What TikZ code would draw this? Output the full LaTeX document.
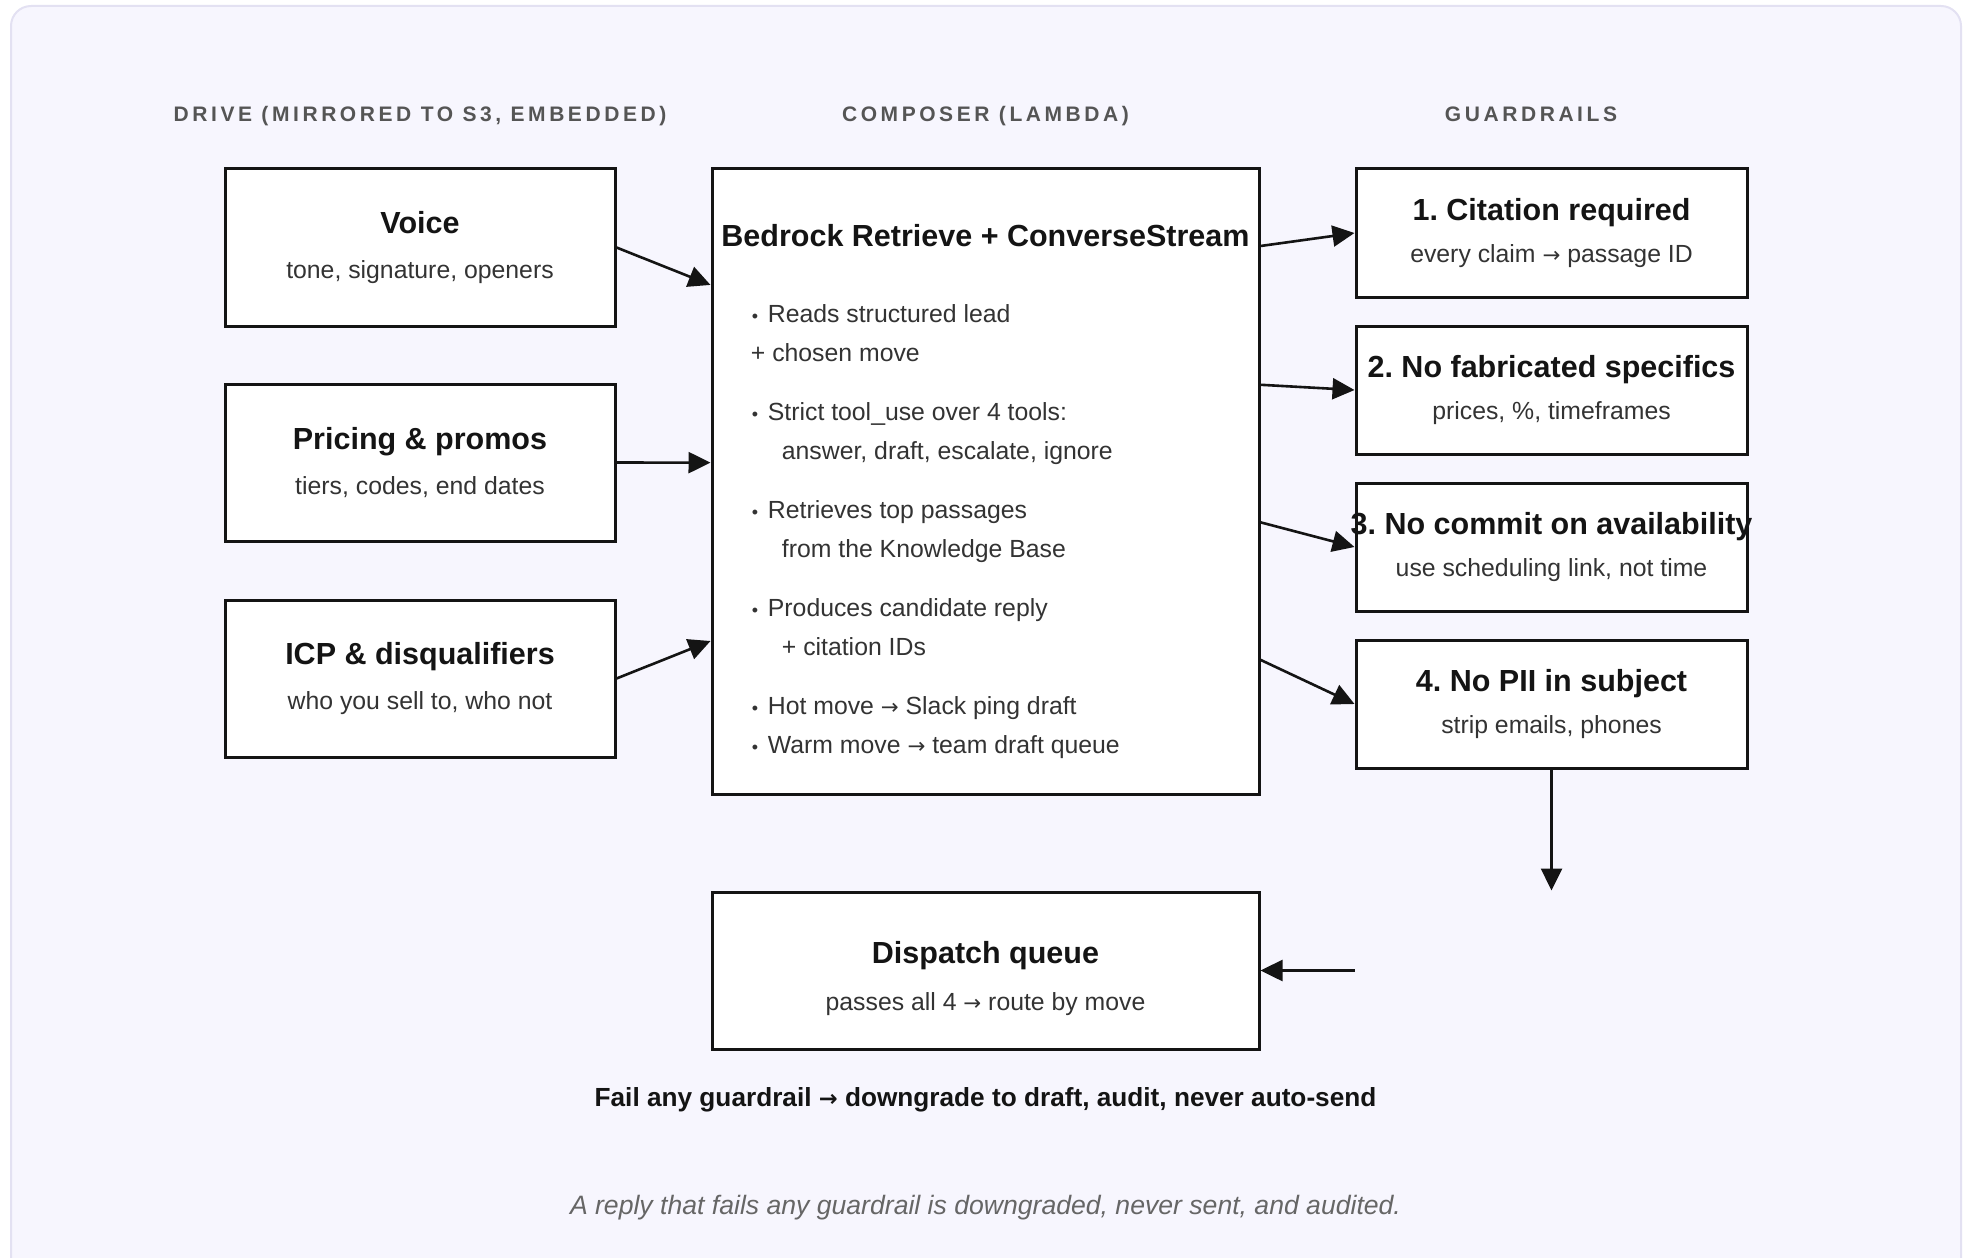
\documentclass[tikz,border=0pt]{standalone}
\usepackage{fontspec}
\setmainfont{Liberation Sans}
\newfontfamily\arrfont{DejaVu Sans}
\usepackage{tikz}
\usetikzlibrary{arrows.meta,positioning,calc}
\frenchspacing

\definecolor{cardbg}{HTML}{F7F6FE}
\definecolor{cardline}{HTML}{E3E1F2}
\definecolor{ink}{HTML}{141414}
\definecolor{subink}{HTML}{333333}
\definecolor{hdink}{HTML}{555555}
\definecolor{noteink}{HTML}{666666}

\newcommand\bxtitle{\fontsize{15.25pt}{18pt}\selectfont\bfseries\color{ink}}
\newcommand\bxsub[1]{\fontsize{12.4pt}{#1}\selectfont\color{subink}}
\newcommand\hdfont{\fontsize{10.5pt}{12pt}\selectfont\bfseries\addfontfeature{LetterSpace=17}}
\newcommand\itm{\makebox[8.5pt][l]{\hspace{.5pt}\fontsize{9pt}{9pt}\selectfont •}}
\newcommand\ind{\hspace*{15.5pt}}
\newcommand\ra{\scalebox{.86}{\arrfont →}}

\begin{document}
\begin{tikzpicture}[
      x=1pt,y=1pt,
      head/.style={font=\hdfont,text=hdink,inner sep=0pt,anchor=base},
      src/.style={draw=ink,line width=1.5pt,fill=white,inner sep=0pt,align=center,
        minimum width=195pt,minimum height=78.5pt,font=\bxsub{22.25pt}},
      rule/.style={src,minimum width=195.5pt,minimum height=64pt,font=\bxsub{20.75pt}},
      arr/.style={->,line width=1.3pt,draw=ink},
      >={Triangle[length=11pt,width=10.5pt]}
    ]
      \useasboundingbox (0,0) rectangle (984,-628.5);
      \path[draw=cardline,fill=cardbg,line width=1pt,rounded corners=10pt] (5.5,-660) rectangle (980.5,-3);

      % sources
      \node[src] (voice) at (210,-123.75) {{\bxtitle Voice}\\tone, signature, openers};
      \node[src,below=27.5pt of voice] (pricing) {{\bxtitle Pricing \& promos}\\tiers, codes, end dates};
      \node[src,below=28pt of pricing] (icp) {{\bxtitle ICP \& disqualifiers}\\who you sell to, who not};

      % composer
      \node[draw=ink,line width=1.5pt,fill=white,minimum width=273.5pt,minimum height=312.5pt,
        below right=0pt and 47pt of voice.north east] (comp) {};
      \node[font=\bxtitle] (ctitle) at ([yshift=-34pt]comp.north) {Bedrock Retrieve + ConverseStream};
      \node[font=\bxsub{19.5pt},align=left,inner sep=0pt,anchor=north west] (steps)
        at ([xshift=20pt,yshift=-68.5pt]comp.north west) {%
        \itm Reads structured lead\\
        + chosen move\\[10pt]
        \itm Strict tool\_use over 4 tools:\\
        \ind answer, draft, escalate, ignore\\[10pt]
        \itm Retrieves top passages\\
        \ind from the Knowledge Base\\[10pt]
        \itm Produces candidate reply\\
        \ind + citation IDs\\[10pt]
        \itm Hot move \ra{} Slack ping draft\\
        \itm Warm move \ra{} team draft queue};

      % guardrails
      \node[rule,below right=0pt and 47pt of comp.north east] (g1) {{\bxtitle 1. Citation required}\\every claim \ra{} passage ID};
      \node[rule,below=13pt of g1] (g2) {{\bxtitle 2. No fabricated specifics}\\prices, \%, timeframes};
      \node[rule,below=13pt of g2] (g3) {{\bxtitle\makebox[0pt]{3. No commit on availability}}\\use scheduling link, not time};
      \node[rule,below=13pt of g3] (g4) {{\bxtitle 4. No PII in subject}\\strip emails, phones};

      \node[src,minimum width=273.5pt,below=47.5pt of comp] (dq)
        {{\bxtitle\rule{0pt}{18.7pt}Dispatch queue}\\[1.25pt]passes all 4 \ra{} route by move};

      % column heads
      \node[head] (hdrive) at (voice |- 0,-61) {DRIVE (MIRRORED TO S3, EMBEDDED)};
      \node[head] (hcomp) at (comp |- 0,-61) {COMPOSER (LAMBDA)};
      \node[head] (hguard) at (765.5,-61) {GUARDRAILS};

      \foreach \s/\f in {voice/.187,pricing/.47,icp/.754}
        \draw[arr] (\s.east) -- ($(comp.north west)!\f!(comp.south west)$);
      \foreach \g/\f in {g1/.125,g2/.346,g3/.565,g4/.784}
        \draw[arr] ($(comp.north east)!\f!(comp.south east)$) -- (\g.west);

      \coordinate (drop) at (g4.south |- dq.north);
      \coordinate (back) at (g4.west |- dq.east);
      \draw[arr] (g4.south) -- (drop);
      \draw[arr] (back) -- (dq.east);

      \node[font=\fontsize{13.1pt}{15pt}\selectfont\bfseries,text=ink,anchor=base] (fail) at (dq |- 0,-553)
        {Fail any guardrail \ra{} downgrade to draft, audit, never auto-send};
      \node[font=\fontsize{13.3pt}{15pt}\selectfont\itshape,text=noteink,anchor=base] (note) at (dq |- 0,-607)
        {A reply that fails any guardrail is downgraded, never sent, and audited.};
    \end{tikzpicture}
\end{document}
